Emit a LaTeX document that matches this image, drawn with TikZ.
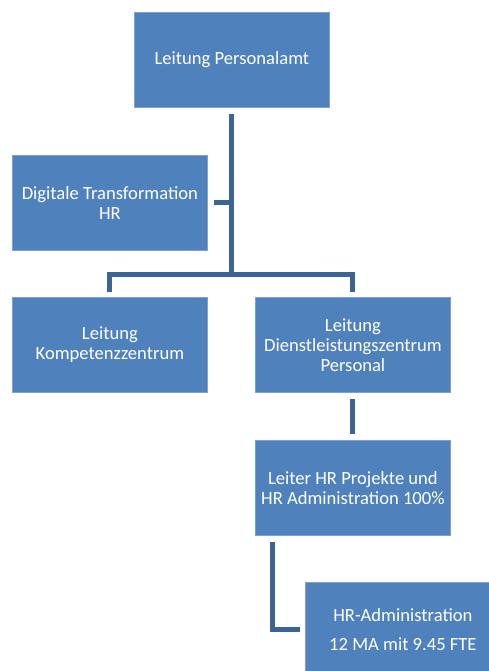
\documentclass[tikz,border=0pt]{standalone}
\usepackage{fontspec}
\setmainfont{Carlito}
\definecolor{boxblue}{RGB}{79,129,189}
\definecolor{boxedge}{RGB}{125,162,208}
\definecolor{linkblue}{RGB}{60,100,150}
\usetikzlibrary{positioning,calc}

\begin{document}
\begin{tikzpicture}[x=1pt,y=-1pt,
    orgbox/.style={draw=boxedge, line width=0.8pt, fill=boxblue, text=white, align=center,
        minimum width=195pt, minimum height=95pt, inner sep=2pt,
        font=\fontsize{18.6}{20}\selectfont, anchor=north west},
    link/.style={draw=linkblue, line width=5pt}]
    \useasboundingbox (0,0) rectangle (489,671);
    \begin{scope}
        \clip (0,0) rectangle (489,671);
        % boxes
        \node[orgbox] (leitung) at (134,12) {Leitung Personalamt};
        \node[orgbox] (digital) at (12,155) {Digitale Transformation\\HR};
        \node[orgbox] (kompetenz) at (12,297) {Leitung\\Kompetenzzentrum};
        \node[orgbox] (dienst) at (255,297) {Leitung\\Dienstleistungszentrum\\Personal};
        \node[orgbox] (leiter) at (255,440) {Leiter HR Projekte und\\HR Administration 100\%};
        \node[orgbox] (hradmin) at (305,582) {HR-Administration\\[9pt]12 MA mit 9.45 FTE};
        % connectors
        \coordinate (bus) at ($(leitung.south |- kompetenz.north)+(0,-23)$);
        \draw[link] ([yshift=-6pt]leitung.south) -- (bus);
        \draw[link] ([yshift=5pt]kompetenz.north) |- (bus) -| ([yshift=5pt]dienst.north);
        \draw[link] ([xshift=6pt]digital.east) -- (digital.east -| bus);
        \draw[link] ([yshift=-6pt]dienst.south) -- ([yshift=6pt]leiter.north);
        \draw[link] ([xshift=17pt,yshift=-6pt]leiter.south west) |- ([xshift=-5pt]hradmin.west);
    \end{scope}
\end{tikzpicture}
\end{document}
